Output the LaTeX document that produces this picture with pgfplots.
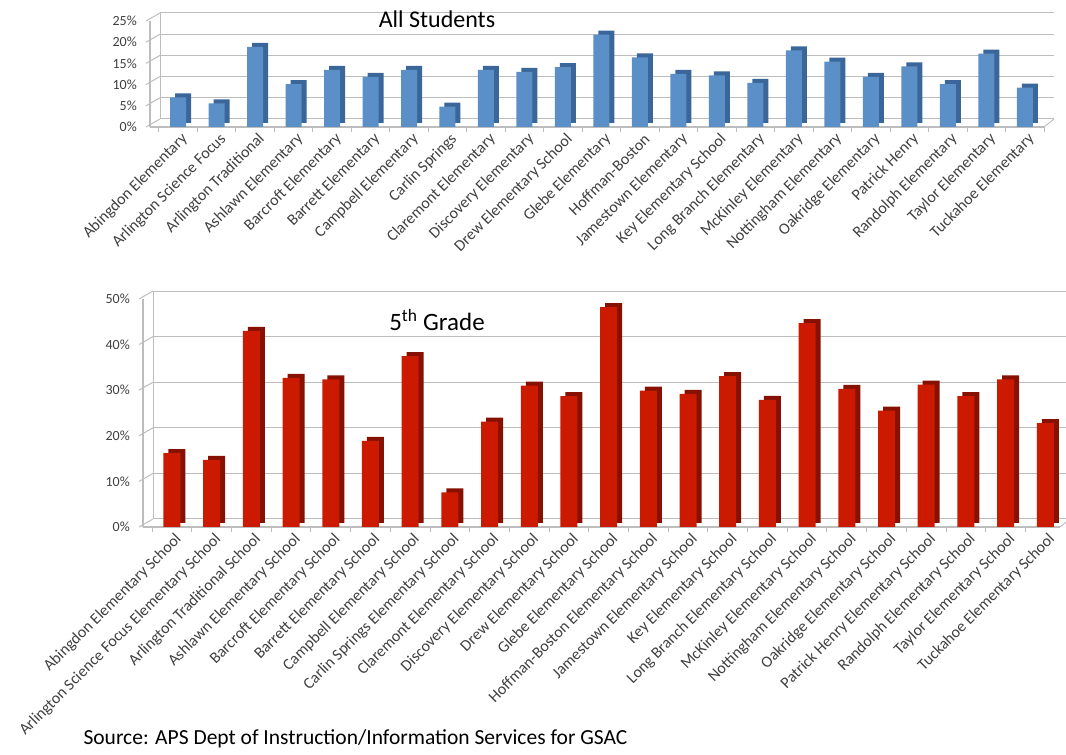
\documentclass[border=0pt]{standalone}
\usepackage{fontspec}
\setmainfont{Carlito}
\usepackage{pgfplots}
\pgfplotsset{compat=1.18}
\usepackage{pgfplotstable}
\definecolor{bluefront}{HTML}{5A8FC8}
\definecolor{blueside}{HTML}{3A6699}
\definecolor{redfront}{HTML}{CC1A00}
\definecolor{redside}{HTML}{861100}
\definecolor{gridc}{HTML}{BDBDBD}
\definecolor{labc}{HTML}{404040}

\pgfplotstableread{
x v
0 7.0
1 5.6
2 18.9
3 10.1
4 13.5
5 11.8
6 13.5
7 4.8
8 13.5
9 13.0
10 14.1
11 21.8
12 16.4
13 12.5
14 12.2
15 10.4
16 18.1
17 15.4
18 11.8
19 14.3
20 10.1
21 17.3
22 9.3
}\allstud

\pgfplotstableread{
x v
0 16.2
1 14.7
2 43.0
3 32.7
4 32.4
5 18.9
6 37.5
7 7.6
8 23.1
9 31.0
10 28.7
11 48.2
12 29.9
13 29.2
14 33.1
15 27.9
16 44.7
17 30.3
18 25.5
19 31.2
20 28.7
21 32.4
22 22.8
}\fifth

\pgfplotsset{
  schoolaxis/.style={
    scale only axis,
    clip=false,
    axis x line*=bottom, axis y line*=left,
    axis line style={gridc, line width=1.2pt},
    xmin=-0.73, ymin=0,
    xtick={0,...,22},
    major x tick style={draw=none},
    minor xtick={-0.5,0.5,...,22.5},
    minor x tick style={gridc, line width=1pt},
    minor tick length=5pt,
    major tick length=4pt,
    tick align=outside,
    ytick style={draw=none},
    ymajorgrids,
    y grid style={gridc, line width=1pt, xshift=10pt, yshift=8pt},
    /pgf/number format/assume math mode=true,
    yticklabel={\pgfmathprintnumber{\tick}\%},
    yticklabel style={font=\fontsize{14}{14}\selectfont, text=labc, anchor=east, inner sep=1pt, xshift=-8pt},
    xticklabel style={rotate=45, anchor=east, font=\fontsize{16}{16}\selectfont, text=labc, inner sep=1pt, yshift=-9pt, xshift=2pt},
  }
}

\begin{document}
\begin{tikzpicture}
\useasboundingbox (0,0) rectangle (1066pt,755pt);

% ---------- All Students ----------
\begin{axis}[schoolaxis,
  at={(150pt,628pt)}, anchor=south west,
  width=894pt, height=106pt,
  xmax=22.5, ymax=25,
  ytick={0,5,...,25},
  xticklabels={Abingdon Elementary,Arlington Science Focus,Arlington Traditional,Ashlawn Elementary,Barcroft Elementary,Barrett Elementary,Campbell Elementary,Carlin Springs,Claremont Elementary,Discovery Elementary,Drew Elementary School,Glebe Elementary,Hoffman-Boston,Jamestown Elementary,Key Elementary School,Long Branch Elementary,McKinley Elementary,Nottingham Elementary,Oakridge Elementary,Patrick Henry,Randolph Elementary,Taylor Elementary,Tuckahoe Elementary},
]
\pgfplotsinvokeforeach{0,5,10,15,20,25}{\draw[gridc, line width=1pt] ([shift={(-4pt,0pt)}]axis cs:-0.73,#1) -- ++(14pt,8pt);}
\draw[gridc, line width=1pt] ([shift={(10pt,8pt)}]axis cs:-0.73,0) -- ([shift={(10pt,8pt)}]axis cs:-0.73,25);
\draw[gridc, line width=1pt] (axis cs:22.5,0) -- ++(10pt,8pt);
\addplot[ybar, bar width=16pt, fill=blueside, draw=none, bar shift=5pt, yshift=4pt] table[x=x,y=v]{\allstud};
\addplot[ybar, bar width=16pt, fill=bluefront, draw=none, bar shift=0pt] table[x=x,y=v]{\allstud};
\end{axis}

% ---------- 5th Grade ----------
\begin{axis}[schoolaxis,
  at={(143pt,228pt)}, anchor=south west,
  width=917pt, height=228pt,
  xmax=22.37, ymax=50,
  ytick={0,10,...,50},
  xticklabels={Abingdon Elementary School,Arlington Science Focus Elementary School,Arlington Traditional School,Ashlawn Elementary School,Barcroft Elementary School,Barrett Elementary School,Campbell Elementary School,Carlin Springs Elementary School,Claremont Elementary School,Discovery Elementary School,Drew Elementary School,Glebe Elementary School,Hoffman-Boston Elementary School,Jamestown Elementary School,Key Elementary School,Long Branch Elementary School,McKinley Elementary School,Nottingham Elementary School,Oakridge Elementary School,Patrick Henry Elementary School,Randolph Elementary School,Taylor Elementary School,Tuckahoe Elementary School},
]
\pgfplotsinvokeforeach{0,10,20,30,40,50}{\draw[gridc, line width=1pt] ([shift={(-4pt,0pt)}]axis cs:-0.73,#1) -- ++(14pt,8pt);}
\draw[gridc, line width=1pt] ([shift={(10pt,8pt)}]axis cs:-0.73,0) -- ([shift={(10pt,8pt)}]axis cs:-0.73,50);
\draw[gridc, line width=1pt] (axis cs:22.37,0) -- ++(10pt,8pt);
\addplot[ybar, bar width=17pt, fill=redside, draw=none, bar shift=5pt, yshift=4pt] table[x=x,y=v]{\fifth};
\addplot[ybar, bar width=17pt, fill=redfront, draw=none, bar shift=0pt] table[x=x,y=v]{\fifth};
\end{axis}

\node[anchor=base, font=\fontsize{24}{24}\selectfont] at (437pt,727pt) {All Students};
\node[anchor=base, font=\fontsize{25}{25}\selectfont] at (437pt,424pt) {5\textsuperscript{th} Grade};
\node[anchor=base west, font=\fontsize{21.5}{21.5}\selectfont] at (80pt,10pt) {Source: APS Dept of Instruction/Information Services for GSAC};
\end{tikzpicture}
\end{document}
